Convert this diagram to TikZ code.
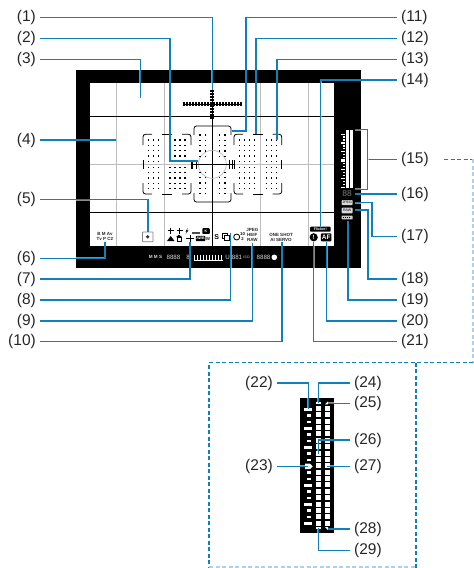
\documentclass[tikz,border=0pt]{standalone}
\usepackage{fontspec}
\setmainfont{Liberation Sans}
\usetikzlibrary{calc,positioning}
\definecolor{leaderblue}{rgb}{0.07, 0.50, 0.72}
\definecolor{gridgray}{rgb}{0.74, 0.74, 0.74}
\definecolor{labelgray}{rgb}{0.15, 0.15, 0.15}
\tikzset{>=latex}
\tikzset{lbl/.style={font=\fontsize{15.5}{17}\selectfont, text=labelgray, inner sep=4pt,
    text height=11pt, text depth=3pt}}
\tikzset{leader/.style={leaderblue, line width=1.25pt,
    preaction={draw=white, draw opacity=0.55, line width=2.2pt}}}
\tikzset{panelline/.style={leaderblue, line width=1.25pt, dash pattern=on 4pt off 2.5pt}}
\tikzset{panelfaint/.style={leaderblue!35, line width=1.1pt, dash pattern=on 4pt off 2.5pt}}
\tikzset{gridline/.style={gridgray, line width=0.8pt}}
\tikzset{finder/.style={black, line width=0.8pt}}
\tikzset{afline/.style={black, line width=0.8pt, rounded corners=2.5pt}}
\tikzset{tinytxt/.style={font=\fontsize{4.5}{5}\bfseries\selectfont, text=black!85, inner sep=0pt, align=center}}
\tikzset{tinybox/.style={font=\fontsize{3.6}{4}\bfseries\selectfont, text=white, fill=black,
    rounded corners=0.8pt, inner sep=0pt, align=center}}
\tikzset{hudtxt/.style={font=\fontsize{6.2}{7}\selectfont, text=white!85!black, inner sep=0pt}}
\begin{document}
\begin{tikzpicture}[x=1pt, y=-1pt]
  \useasboundingbox (0, 0) rectangle (474, 568);
  % viewfinder frame
  \fill[black] (76, 70) rectangle (360.5, 268);
  \fill[white] (90, 83) rectangle (334, 246);
  \foreach \x in {116.3, 164.3, 260, 308} {
    \draw[gridline] (\x, 83) -- (\x, 246); %
  }
  \draw[gridline] (90, 164.3) -- (334, 164.3); %
  \draw[finder] (90, 116.3) -- (334, 116.3); %
  \draw[finder] (90, 212.3) -- (334, 212.3); %
  \draw[finder] (212.3, 116.3) -- (212.3, 246); %
  \draw[gridgray, line width=0.7pt] (212.3, 164.3) circle (14); %
  % level marks on top
  \draw[black, line width=1pt] (183, 104) -- (242, 104); %
  \draw[black, line width=1pt] (212.3, 90) -- (212.3, 118); %
  \foreach \x in {184, 187, ..., 241} {
    \fill[black] (\x - 0.8, 102) rectangle (\x + 0.8, 106); %
  }
  \foreach \y in {91, 94, ..., 118} {
    \fill[black] (210.3, \y - 0.8) rectangle (214.3, \y + 0.8); %
  }
  % AF areas
  \draw[afline] (194, 135) -- (194, 126) -- (231, 126) -- (231, 135); %
  \draw[afline] (194, 193) -- (194, 202) -- (231, 202) -- (231, 193); %
  \draw[finder] (192, 164.3) -- (234, 164.3); %
  \foreach \x in {192.5, 196, 229, 232.5} {
    \draw[finder] (\x, 160) -- (\x, 169); %
  }
  \foreach \xa/\xb in {143/191, 234/281.7} {
    \draw[afline] (\xa, 145) -- (\xa, 134.3) -- (\xa + 9, 134.3); %
    \draw[afline] (\xb - 9, 134.3) -- (\xb, 134.3) -- (\xb, 145); %
    \draw[afline] (\xa, 183) -- (\xa, 194) -- (\xa + 9, 194); %
    \draw[afline] (\xb - 9, 194) -- (\xb, 194) -- (\xb, 183); %
    \draw[finder] (\xa + 19, 134.3) -- (\xb - 19, 134.3); %
    \draw[finder] (\xa + 19, 194) -- (\xb - 19, 194); %
    \draw[finder] (\xa, 160) -- (\xa, 169); %
    \draw[finder] (\xb, 160) -- (\xb, 169); %
  }
  \foreach \x in {148.3, 153.3, 158.3, 170, 175, 180, 185, 239.6, 244.6, 249.6, 254.6, 266.3, 271.3, 276.3} {
    \foreach \y in {140, 145.3, 150.6, 155.9, 161.2, 167.4, 172.7, 178, 183.3, 188.6} {
      \fill[black] (\x - 0.8, \y - 0.6) rectangle (\x + 0.8, \y + 0.6); %
    }
  }
  \foreach \x in {200, 205.3, 219.3, 225} {
    \foreach \y in {135, 140.3, 145.6, 150.9, 156.2, 172.4, 177.7, 183, 188.3, 193.6} {
      \fill[black] (\x - 0.8, \y - 0.6) rectangle (\x + 0.8, \y + 0.6); %
    }
  }
  % icons above the strip, left to right
  \node[tinytxt] (modes) at (105, 236.6) {B M Av\\[0.4pt]Tv P C2};
  \draw[gray, fill=white, line width=0.7pt, rounded corners=0.5pt] (142.5, 232) rectangle (153, 241.7); %
  \fill[black!80] (147.7, 236.8) circle (1.8); %
  \draw[black, line width=0.9pt] (167.5, 230.7) -- (174, 230.7); %
  \draw[black, line width=0.9pt] (170.7, 228) -- (170.7, 233.5); %
  \fill[black] (167, 241) -- (170.7, 236) -- (174.5, 241) -- cycle; %
  \draw[black, line width=0.9pt] (176.5, 230.7) -- (182.5, 230.7); %
  \draw[black, line width=0.9pt] (179.5, 228) -- (179.5, 233.5); %
  \draw[black, line width=0.8pt] (177, 241) rectangle (181, 237); %
  \fill[black] (176, 237) -- (179, 234.7) -- (182, 237) -- cycle; %
  \fill[black] (187.7, 228) -- (185.5, 231.5) -- (187, 231.5) -- (185.7, 234) -- (188.5, 230.3) -- (187, 230.3) -- cycle; %
  \fill[black!70] (192, 232) rectangle (200, 234); %
  \node[tinybox, minimum width=7.5pt, minimum height=5.6pt] (kelvin) at (206, 231) {K};
  \draw[black, line width=0.9pt] (186, 238.3) -- (194, 238.3); %
  \draw[black, line width=0.9pt] (190, 234.5) -- (190, 241.5); %
  \node[tinybox, minimum width=9.5pt, minimum height=5.4pt] (awb) at (200.5, 238.5) {AWB};
  \node[tinytxt, font=\fontsize{4.4}{5}\bfseries\selectfont] (wbw) at (208, 238.5) {W};
  \node[tinytxt, text=black, font=\fontsize{7}{8}\bfseries\selectfont] (single) at (216.7, 237.3) {S};
  \draw[black, line width=0.6pt, fill=white] (222.5, 233.5) rectangle (227, 238); %
  \draw[black, line width=0.6pt, fill=white] (224.5, 235) rectangle (229, 240); %
  \draw[black, line width=0.8pt] (236.7, 237) circle (3); %
  \node[tinytxt, text=black, font=\fontsize{4.2}{5}\bfseries\selectfont] (timer) at (242.5, 236.6) {10\\[0.5pt]2};
  \node[tinytxt] (formats) at (252.3, 235) {JPEG\\[0pt]HEIF\\[0pt]RAW};
  \node[tinytxt] (afmodes) at (281, 237.3) {ONE SHOT\\[0.2pt]AI SERVO};
  \node[tinybox, minimum width=20.5pt, minimum height=5pt] (flicker) at (320.4, 229.2) {Flicker!};
  \node[circle, fill=black, inner sep=0pt, minimum size=8.2pt, text=white,
    font=\fontsize{6}{6}\bfseries\selectfont] (warn) at (313.7, 237.3) {!};
  \node[tinybox, font=\fontsize{6.5}{7}\bfseries\selectfont, minimum width=10.5pt, minimum height=8pt] (afstat) at (326.2, 237.3) {AF};
  % strip below the image
  \node[hudtxt, font=\fontsize{4.6}{5}\bfseries\selectfont] (hudmode) at (155.5, 257.3) {M M S};
  \node[hudtxt] (hudtv) at (173.5, 257.3) {8888};
  \node[hudtxt] (hudav) at (188, 257.3) {8};
  \draw[white, line width=1pt] (193.5, 260) -- (223, 260); %
  \foreach \x in {194, 197, ..., 223} {
    \draw[white, line width=0.5pt] (\x, 255) -- (\x, 259.5); %
  }
  \node[hudtxt] (hudlock) at (227.5, 257.3) {U};
  \node[hudtxt] (hudiso) at (237, 257.3) {881};
  \node[hudtxt, font=\fontsize{3.6}{4}\selectfont] (hudiso2) at (246.5, 257.3) {ISO};
  \node[hudtxt] (hudshots) at (263.5, 257.3) {8888};
  \fill[white] (274.3, 257.3) circle (2.8); %
  % column beside the image
  \fill[white] (346, 130) rectangle (349, 188); %
  \fill[white] (350, 130) rectangle (353, 188); %
  \foreach \y in {0, 3, 6, 12, 15, 18} {
    \fill[white] (341, 133.5 + \y * 2.95) rectangle (345, 134.7 + \y * 2.95); %
  }
  \foreach \y in {1, 2, 4, 5, 7, 8, 10, 11, 13, 14, 16, 17} {
    \fill[white] (342.5, 133.5 + \y * 2.95) rectangle (345, 134.7 + \y * 2.95); %
  }
  \fill[white] (341, 158.5) rectangle (345, 162); %
  \node[hudtxt, font=\fontsize{8.5}{9}\selectfont, text=gray] (qual) at (347, 194) {88};
  \node[tinybox, fill=black!15, text=black, font=\fontsize{3.6}{4}\selectfont, minimum width=11pt, minimum height=5pt] (jpegbox) at (347.2, 202.5) {JPEG};
  \node[tinybox, fill=black!15, text=black, font=\fontsize{3.6}{4}\selectfont, minimum width=11pt, minimum height=5.6pt] (rawbox) at (347.2, 210.5) {RAW};
  \fill[black!20, rounded corners=0.5pt] (341.7, 215.7) rectangle (352.7, 219.3); %
  \foreach \x in {343.5, 345.5, ..., 351} {
    \fill[black] (\x - 0.5, 216.6) rectangle (\x + 0.5, 218.4); %
  }
  % labels
  \foreach \n/\y in {1/17.3, 2/38.3, 3/59.3, 4/140, 5/199.7, 6/258.3, 7/279, 8/300, 9/321, 10/341.7} {
    \node[lbl, anchor=east] (l\n) at (40, \y) {(\n)};
  }
  \foreach \n/\y in {11/17.3, 12/38.3, 13/59.3, 14/80, 15/159.3, 16/194, 17/236.7, 18/279, 19/300, 20/321, 21/341.7} {
    \node[lbl, anchor=west] (l\n) at (397, \y) {(\n)};
  }
  \foreach \n/\y in {22/383, 23/466.3} {
    \node[lbl, anchor=east] (l\n) at (277, \y) {(\n)};
  }
  \foreach \n/\y in {24/383, 25/403.3, 26/440, 27/466.3, 28/529, 29/550.3} {
    \node[lbl, anchor=west] (l\n) at (350, \y) {(\n)};
  }
  % where the leaders end
  \coordinate (e1) at (212.3, 90);
  \coordinate (b2) at (170, 161);
  \coordinate (e2) at (198.3, 161);
  \coordinate (e3) at (140.3, 98);
  \coordinate (e4) at (116.3, 140);
  \coordinate (e5) at (148, 231.7);
  \coordinate (e6) at (105, 241.7);
  \coordinate (e7) at (190, 241.7);
  \coordinate (e8) at (230.7, 233);
  \coordinate (e9) at (252.3, 243);
  \coordinate (e10) at (282, 241.7);
  \coordinate (b11) at (246, 131);
  \coordinate (e11) at (232, 131);
  \coordinate (e12) at (256, 134);
  \coordinate (e13) at (277, 140);
  \coordinate (e14) at (320.7, 226.7);
  \coordinate (j15) at (367.7, 159.3);
  \coordinate (t15) at (367.7, 129.7);
  \coordinate (a15) at (355, 129.7);
  \coordinate (u15) at (367.7, 189.3);
  \coordinate (c15) at (355, 189.3);
  \coordinate (e16) at (355, 194);
  \coordinate (b17) at (372, 202.7);
  \coordinate (e17) at (355, 202.7);
  \coordinate (b18) at (368, 210);
  \coordinate (e18) at (355, 210);
  \coordinate (e19) at (348, 220.7);
  \coordinate (e20) at (326.7, 241.7);
  \coordinate (e21) at (313.7, 241.7);
  % leaders
  \foreach \n in {1, 3, 5, 6, 7, 8, 9, 10} {
    \draw[leader] (l\n.east) -| (e\n); %
  }
  \draw[leader] (l4.east) -- (e4); %
  \draw[leader] (l2.east) -| (b2) -- (e2); %
  \draw[leader] (l11.west) -| (b11) -- (e11); %
  \foreach \n in {12, 13, 14, 19, 20, 21} {
    \draw[leader] (l\n.west) -| (e\n); %
  }
  \draw[leader] (l15.west) -- (j15); %
  \draw[leader] (a15) -- (t15) -- (u15) -- (c15); %
  \draw[leader] (l16.west) -- (e16); %
  \draw[leader] (l17.west) -| (b17) -- (e17); %
  \draw[leader] (l18.west) -| (b18) -- (e18); %
  % dashed enlargement panel
  \coordinate (d0) at (444, 159.3);
  \coordinate (d1) at (473, 159.3);
  \coordinate (d2) at (473, 362.7);
  \coordinate (d3) at (209, 362.7);
  \coordinate (d4) at (209, 568);
  \coordinate (d5) at (416, 362.7);
  \coordinate (d6) at (416, 568);
  \draw[panelline] (d0) -- (d1); %
  \draw[panelfaint] (d1) -- (d2); %
  \draw[panelline] (d2) -- (d3) -- (d4); %
  \draw[panelline] (d5) -- (d6); %
  \draw[panelfaint] (209, 567) -- (416, 567); %
  % enlarged column
  \fill[black] (300, 397.7) rectangle (334, 532.7);
  \foreach \i in {0, ..., 18} {
    \fill[white] (316, 405.8 + \i * 6.39) rectangle (321, 410.8 + \i * 6.39); %
    \fill[white] (325, 405.8 + \i * 6.39) rectangle (330, 410.8 + \i * 6.39); %
  }
  \foreach \i in {0, 3, 6, 12, 15, 18} {
    \fill[white] (304, 408.1 + \i * 6.33) rectangle (311.7, 410.7 + \i * 6.33); %
  }
  \foreach \i in {1, 2, 4, 5, 7, 8, 10, 11, 13, 14, 16, 17} {
    \fill[white] (306.7, 408.1 + \i * 6.33) rectangle (311, 410.7 + \i * 6.33); %
  }
  \fill[white] (305, 463.5) -- (310, 463.5) -- (312.7, 466.3) -- (310, 469) -- (305, 469) -- cycle; %
  \fill[white] (316, 402.3) rectangle (321, 404.3); %
  \fill[white] (325, 404.3) -- (328, 401.5) -- (328, 404.3) -- cycle; %
  \fill[white] (316, 526.8) rectangle (321, 528.8); %
  \fill[white] (325, 527) -- (328, 527) -- (328, 530) -- cycle; %
  % leaders of the enlarged column
  \coordinate (e22) at (308.3, 409);
  \coordinate (e23) at (308, 466.3);
  \coordinate (e24) at (318.3, 403.3);
  \coordinate (e25) at (327.7, 403.3);
  \coordinate (b26) at (318.3, 440);
  \coordinate (e26) at (318.3, 454.3);
  \coordinate (e27) at (327.3, 466.3);
  \coordinate (e28) at (327.7, 529);
  \coordinate (e29) at (318.3, 528.3);
  \draw[leader] (l22.east) -| (e22); %
  \draw[leader] (l23.east) -- (e23); %
  \draw[leader] (l24.west) -| (e24); %
  \draw[leader] (l25.west) -- (e25); %
  \draw[leader] (l26.west) -| (e26); %
  \draw[leader] (l27.west) -- (e27); %
  \draw[leader] (l28.west) -- (e28); %
  \draw[leader] (l29.west) -| (e29); %
\end{tikzpicture}
\end{document}
